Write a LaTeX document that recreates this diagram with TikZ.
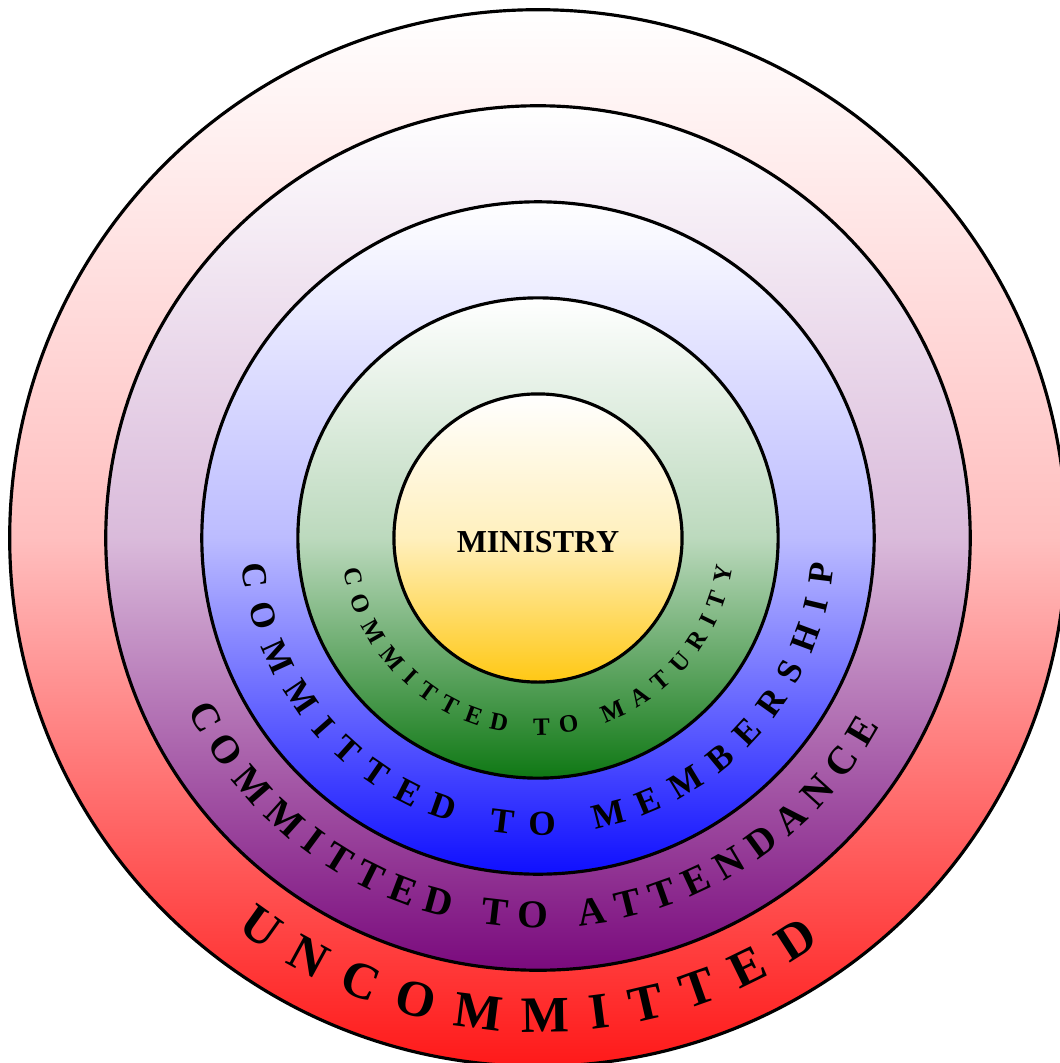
\documentclass[tikz,border=0pt]{standalone}
\usepackage{fontspec}
\setmainfont{Liberation Serif}
\usepackage{xcolor}
\usepackage{tikz}
\usetikzlibrary{decorations.text,positioning,shapes}
\definecolor{uncred}{RGB}{255,25,25}
\definecolor{attpurple}{RGB}{122,10,125}
\definecolor{memblue}{RGB}{15,15,255}
\definecolor{matgreen}{RGB}{15,120,20}
\definecolor{mingold}{RGB}{255,200,20}
\newcommand\uncfont{\fontsize{14.5}{17}\selectfont\bfseries}
\newcommand\attfont{\fontsize{11.2}{13}\selectfont\bfseries}
\newcommand\memfont{\fontsize{10}{12}\selectfont\bfseries}
\newcommand\matfont{\fontsize{7.1}{9}\selectfont\bfseries}
\tikzset{ring/.style={circle,inner sep=0pt,draw=black,line width=0.9pt,top color=white,bottom color=#1,middle color=#1!28!white}}
\tikzset{arctext/.style={decorate,decoration={text along path,text align=fit to path,text={#1}}}}

\begin{document}
\begin{tikzpicture}[x=0.01cm,y=0.01cm]
\useasboundingbox (-538,-525) rectangle (522,538);
\node[ring=uncred,minimum size=10.56cm] (uncommitted) at (0,0) {};
\node[ring=attpurple,minimum size=8.64cm] (attendance) at (0,0) {};
\node[ring=memblue,minimum size=6.72cm] (membership) at (0,0) {};
\node[ring=matgreen,minimum size=4.80cm] (maturity) at (0,0) {};
\node[ring=mingold,minimum size=2.88cm] (ministry) at (0,0) {};
\node[font=\fontsize{9.1}{11}\selectfont\bfseries] (ministrytext) at (0,-4) {MINISTRY};

\path[arctext={|\uncfont|UNCOMMITTED}] (232.4:494) arc[start angle=232.4,end angle=304.8,radius=494];
\path[arctext={|\attfont|COMMITTED TO ATTENDANCE}] (206.2:390) arc[start angle=206.2,end angle=331.2,radius=390];
\path[arctext={|\memfont|COMMITTED TO MEMBERSHIP}] (185.2:297) arc[start angle=185.2,end angle=354.9,radius=297];
\path[arctext={|\matfont|COMMITTED TO MATURITY}] (189.3:197) arc[start angle=189.3,end angle=351.6,radius=197];
\end{tikzpicture}
\end{document}
